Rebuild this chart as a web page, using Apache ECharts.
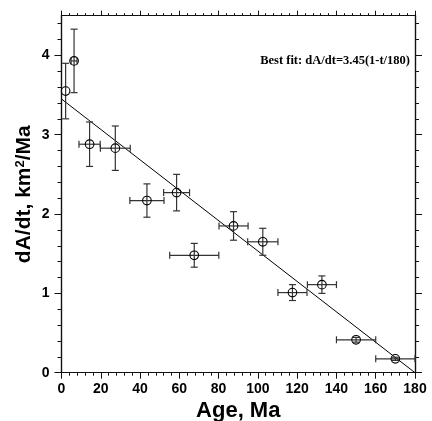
<!DOCTYPE html>
<html><head><meta charset="utf-8">
<script src="https://cdn.jsdelivr.net/npm/echarts@6/dist/echarts.min.js"></script>
<style>html,body{margin:0;padding:0;background:#fff}#c{width:432px;height:421px}</style>
</head><body><div id="c"></div>
<script>
// data: age (Ma), dA/dt, age error, rate error
const ages   = [2.1, 6.4, 14.3, 27.4, 43.5, 58.6, 67.6, 87.6, 102.5, 117.6, 132.6, 150, 170];
const rates  = [3.55, 3.93, 2.88, 2.83, 2.17, 2.27, 1.48, 1.85, 1.65, 1.01, 1.11, 0.415, 0.175];
const ageErr = [0, 1.5, 5.4, 7.6, 8.7, 6.6, 12.5, 7.4, 7.7, 7.4, 7.4, 10, 10];
const rateErr= [0.35, 0.4, 0.28, 0.28, 0.21, 0.23, 0.15, 0.18, 0.17, 0.1, 0.11, 0.03, 0.02];
const fitA = 3.45, fitT = 180;
const fitLine = [[0, fitA], [fitT, 0]];
const xMajor = [0,20,40,60,80,100,120,140,160,180];
const yMajor = [0,1,2,3,4];
const xMinor = []; for (let v=4; v<180; v+=4) if (v%20) xMinor.push(v);
const yMinor = []; for (let i=1; i<23; i++) if (i%5) yMinor.push(+(i*0.2).toFixed(1));

const chart = echarts.init(document.getElementById('c'), null, {renderer:'canvas'});
const lineCol = '#111';
const sans = 'Liberation Sans';
function mkAxis(type, pos, ticks, len, labels, extra){
  const o = {
    type:'value', position:pos, min:0, max: type==='x'?180:4.5,
    axisLine:{show:true, onZero:false, lineStyle:{color:lineCol, width:1.2}},
    axisTick:{show:true, inside:false, length:len, customValues:ticks, lineStyle:{color:lineCol, width:1}},
    splitLine:{show:false},
    axisLabel:{show:labels, customValues:ticks, color:'#000', fontFamily:sans, fontWeight:'bold', fontSize:14, margin: type==='x'?9:12},
  };
  return Object.assign(o, extra||{});
}
chart.setOption({
  animation:false,
  grid:{left:61.5, right:17, top:15.7, bottom:48.3, containLabel:false, outerBoundsMode:'none'},
  xAxis:[
    mkAxis('x','bottom', xMajor, 6, true, {name:'Age, Ma', nameLocation:'middle', nameGap:27, nameMoveOverlap:false,
      nameTextStyle:{fontFamily:sans, fontWeight:'bold', fontSize:22, color:'#000'}}),
    mkAxis('x','bottom', xMinor, 3, false),
    mkAxis('x','top', xMajor, 5, false),
    mkAxis('x','top', xMinor, 2.5, false)
  ],
  yAxis:[
    mkAxis('y','left', yMajor, 7, true, {name:'dA/dt, km{sup|2}/Ma', nameLocation:'middle', nameGap:27, nameMoveOverlap:false,
      nameTextStyle:{fontFamily:sans, fontWeight:'bold', fontSize:21, color:'#000',
        rich:{sup:{fontFamily:sans, fontWeight:'bold', fontSize:13, color:'#000', verticalAlign:'top'}}}}),
    mkAxis('y','left', yMinor, 4, false),
    mkAxis('y','right', yMajor, 7, false),
    mkAxis('y','right', yMinor, 4, false)
  ],
  series:[
    {type:'line', data:fitLine, symbol:'none', lineStyle:{color:'#000', width:1}, silent:true, z:2},
    {type:'custom', z:3,
     data: ages.map((a,i)=>[a, rates[i], ageErr[i], rateErr[i]]),
     renderItem:function(params, api){
       const x=api.value(0), y=api.value(1), ex=api.value(2), ey=api.value(3);
       const c = api.coord([x,y]);
       const l = api.coord([x-ex,y]), r = api.coord([x+ex,y]);
       const t = api.coord([x,y+ey]), b = api.coord([x,y-ey]);
       const cap=3.5, st={stroke:'#333', lineWidth:1.2};
       const ch=[];
       if (ex>0){
         ch.push({type:'line', shape:{x1:l[0],y1:l[1],x2:r[0],y2:r[1]}, style:st});
         ch.push({type:'line', shape:{x1:l[0],y1:l[1]-cap,x2:l[0],y2:l[1]+cap}, style:st});
         ch.push({type:'line', shape:{x1:r[0],y1:r[1]-cap,x2:r[0],y2:r[1]+cap}, style:st});
       }
       ch.push({type:'line', shape:{x1:t[0],y1:t[1],x2:b[0],y2:b[1]}, style:st});
       ch.push({type:'line', shape:{x1:t[0]-cap,y1:t[1],x2:t[0]+cap,y2:t[1]}, style:st});
       ch.push({type:'line', shape:{x1:b[0]-cap,y1:b[1],x2:b[0]+cap,y2:b[1]}, style:st});
       ch.push({type:'circle', shape:{cx:c[0], cy:c[1], r:4.3}, style:{fill:'none', stroke:'#000', lineWidth:1.1}});
       return {type:'group', children:ch};
     }}
  ],
  graphic:[{type:'text', right:22, top:54, style:{text:'Best fit: dA/dt=3.45(1-t/180)', fontFamily:'Liberation Serif', fontWeight:'bold', fontSize:12.5, fill:'#000'}}]
});
</script></body></html>
